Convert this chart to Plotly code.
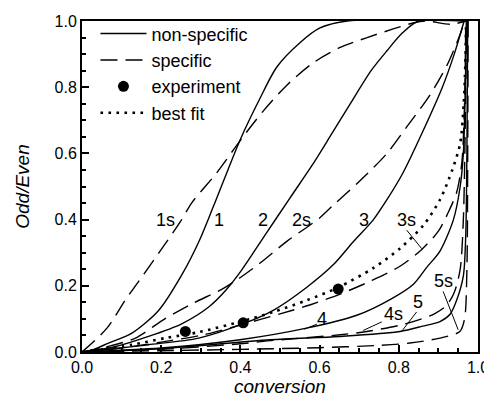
import plotly.graph_objects as go

# ---------------- data ----------------
conv_1 = [0, 0.03, 0.067, 0.126, 0.194, 0.253, 0.295, 0.332, 0.399, 0.449, 0.492, 0.551, 0.601, 0.67, 0.97]
odd_1 = [0, 0.008, 0.027, 0.057, 0.126, 0.235, 0.333, 0.44, 0.64, 0.765, 0.861, 0.935, 0.979, 1.0, 1.0]

conv_1s = [0, 0.063, 0.109, 0.156, 0.202, 0.248, 0.278, 0.34, 0.399, 0.457, 0.518, 0.583, 0.652, 0.72, 0.786, 0.836, 0.87, 0.93, 0.97]
odd_1s = [0, 0.072, 0.156, 0.235, 0.313, 0.393, 0.452, 0.541, 0.638, 0.727, 0.807, 0.873, 0.92, 0.95, 0.976, 0.994, 1.0, 0.99, 1.0]

conv_2 = [0, 0.08, 0.168, 0.253, 0.32, 0.362, 0.404, 0.466, 0.525, 0.58, 0.63, 0.68, 0.73, 0.77, 0.81, 0.85, 0.97]
odd_2 = [0, 0.015, 0.047, 0.086, 0.136, 0.185, 0.249, 0.36, 0.465, 0.562, 0.658, 0.755, 0.85, 0.91, 0.965, 1.0, 1.0]

conv_2s = [0, 0.06, 0.135, 0.21, 0.278, 0.354, 0.4, 0.449, 0.518, 0.6, 0.634, 0.702, 0.77, 0.82, 0.879, 0.922, 0.955, 0.966]
odd_2s = [0, 0.015, 0.042, 0.101, 0.146, 0.19, 0.225, 0.268, 0.335, 0.405, 0.443, 0.517, 0.6, 0.68, 0.777, 0.867, 0.96, 1.0]

conv_3 = [0, 0.08, 0.168, 0.295, 0.404, 0.483, 0.567, 0.635, 0.685, 0.736, 0.77, 0.81, 0.862, 0.91, 0.94, 0.965]
odd_3 = [0, 0.01, 0.022, 0.042, 0.084, 0.126, 0.195, 0.264, 0.333, 0.4, 0.46, 0.54, 0.67, 0.8, 0.9, 1.0]

conv_3s = [0, 0.1, 0.2, 0.307, 0.404, 0.5, 0.575, 0.652, 0.73, 0.803, 0.858, 0.9, 0.925, 0.946, 0.959, 0.966, 0.969]
odd_3s = [0, 0.012, 0.03, 0.052, 0.083, 0.115, 0.142, 0.175, 0.215, 0.259, 0.31, 0.365, 0.422, 0.482, 0.57, 0.75, 1.0]

conv_4 = [0, 0.2, 0.399, 0.567, 0.694, 0.78, 0.837, 0.87, 0.904, 0.938, 0.955, 0.963, 0.968, 0.971]
odd_4 = [0, 0.012, 0.037, 0.072, 0.111, 0.16, 0.205, 0.255, 0.305, 0.4, 0.5, 0.6, 0.8, 1.0]

conv_4s = [0, 0.2, 0.4, 0.483, 0.652, 0.719, 0.803, 0.85, 0.891, 0.92, 0.94, 0.955, 0.963, 0.968, 0.971]
odd_4s = [0, 0.008, 0.025, 0.035, 0.052, 0.062, 0.081, 0.097, 0.116, 0.14, 0.18, 0.25, 0.4, 0.7, 1.0]

conv_5 = [0, 0.2, 0.475, 0.65, 0.803, 0.86, 0.904, 0.93, 0.946, 0.963, 0.969, 0.972, 0.974]
odd_5 = [0, 0.01, 0.037, 0.047, 0.062, 0.078, 0.092, 0.115, 0.156, 0.23, 0.35, 0.6, 1.0]

conv_5s = [0, 0.2, 0.4, 0.6, 0.75, 0.828, 0.904, 0.954, 0.966, 0.972, 0.974, 0.975]
odd_5s = [0, 0.004, 0.008, 0.013, 0.02, 0.027, 0.042, 0.062, 0.1, 0.25, 0.6, 1.0]

conv_fit = [0, 0.126, 0.21, 0.295, 0.404, 0.483, 0.567, 0.647, 0.736, 0.803, 0.862, 0.904, 0.935, 0.955, 0.964, 0.968, 0.97]
odd_fit = [0, 0.022, 0.042, 0.06, 0.093, 0.121, 0.156, 0.195, 0.254, 0.313, 0.383, 0.46, 0.55, 0.63, 0.75, 0.87, 1.0]

conv_exp = [0.261, 0.407, 0.647]
odd_exp = [0.062, 0.088, 0.19]

# curve labels: text, label position, leader start, leader end (None = no leader)
label_text = ["1s", "1", "2", "2s", "3", "3s", "4", "4s", "5", "5s"]
label_x = [0.21, 0.345, 0.458, 0.555, 0.712, 0.82, 0.605, 0.786, 0.849, 0.912]
label_y = [0.398, 0.398, 0.398, 0.398, 0.398, 0.398, 0.101, 0.116, 0.151, 0.215]
leader_x0 = [None, None, None, None, None, 0.82, 0.593, 0.757, 0.845, 0.912]
leader_y0 = [None, None, None, None, None, 0.368, 0.084, 0.091, 0.121, 0.183]
leader_x1 = [None, None, None, None, None, 0.858, 0.561, 0.71, 0.807, 0.95]
leader_y1 = [None, None, None, None, None, 0.312, 0.069, 0.065, 0.062, 0.067]

x_ticks = [0.0, 0.2, 0.4, 0.6, 0.8, 1.0]
y_ticks = [0.0, 0.2, 0.4, 0.6, 0.8, 1.0]

# ---------------- figure ----------------
FONT = "Liberation Sans, Arial, sans-serif"
LW = 1.4
DASH = "17px,8px"

fig = go.Figure()

solid = [(conv_1, odd_1), (conv_2, odd_2), (conv_3, odd_3), (conv_4, odd_4), (conv_5, odd_5)]
dashed = [(conv_1s, odd_1s), (conv_2s, odd_2s), (conv_3s, odd_3s), (conv_4s, odd_4s), (conv_5s, odd_5s)]

for i, (xs, ys) in enumerate(solid):
    fig.add_trace(go.Scatter(x=xs, y=ys, mode="lines", name="non-specific",
                             showlegend=(i == 0), legendrank=1,
                             line=dict(color="black", width=LW, shape="spline", smoothing=0.8)))
for i, (xs, ys) in enumerate(dashed):
    fig.add_trace(go.Scatter(x=xs, y=ys, mode="lines", name="specific",
                             showlegend=(i == 0), legendrank=2,
                             line=dict(color="black", width=LW, dash=DASH, shape="spline", smoothing=0.8)))

fig.add_trace(go.Scatter(x=conv_exp, y=odd_exp, mode="markers", name="experiment", legendrank=3,
                         marker=dict(color="black", size=11)))
fig.add_trace(go.Scatter(x=conv_fit, y=odd_fit, mode="lines", name="best fit", legendrank=4,
                         line=dict(color="black", width=2.6, dash="2.6px,5.4px", shape="spline", smoothing=0.8)))

for t, lx, ly, x0, y0, x1, y1 in zip(label_text, label_x, label_y, leader_x0, leader_y0, leader_x1, leader_y1):
    fig.add_annotation(x=lx, y=ly, text=t, showarrow=False, xref="x", yref="y",
                       font=dict(family=FONT, size=18, color="black"))
    if x0 is not None:
        fig.add_shape(type="line", x0=x0, y0=y0, x1=x1, y1=y1, xref="x", yref="y",
                      line=dict(color="black", width=1))

axis_common = dict(
    showline=True, linewidth=2, linecolor="black", mirror=True,
    ticks="inside", ticklen=7, tickwidth=1.5, tickcolor="black",
    showgrid=False, zeroline=False, automargin=False,
    tickfont=dict(family=FONT, size=16, color="black"),
    minor=dict(ticks="inside", ticklen=4, tickwidth=1.5, tickcolor="black", dtick=0.05, showgrid=False),
)

fig.update_xaxes(range=[0, 1], tickvals=x_ticks, ticktext=[f"{v:.1f}" for v in x_ticks],
                 title=dict(text="<i>conversion</i>", font=dict(family=FONT, size=19, color="black"), standoff=4),
                 **axis_common)
fig.update_yaxes(range=[0, 1], tickvals=y_ticks, ticktext=[f"{v:.1f}" for v in y_ticks],
                 title=dict(text="<i>Odd/Even</i>", font=dict(family=FONT, size=19, color="black"), standoff=20),
                 **axis_common)

# the page body has an 8px default margin, so the figure is sized 8px smaller
fig.update_layout(
    width=484, height=402,
    margin=dict(l=74, r=14, t=7, b=58),
    plot_bgcolor="white", paper_bgcolor="white",
    font=dict(family=FONT, color="black"),
    legend=dict(x=0.034, y=1.017, xanchor="left", yanchor="top", bgcolor="rgba(0,0,0,0)",
                font=dict(family=FONT, size=18, color="black"), tracegroupgap=0, itemwidth=46),
)

fig.write_html("out.html")
